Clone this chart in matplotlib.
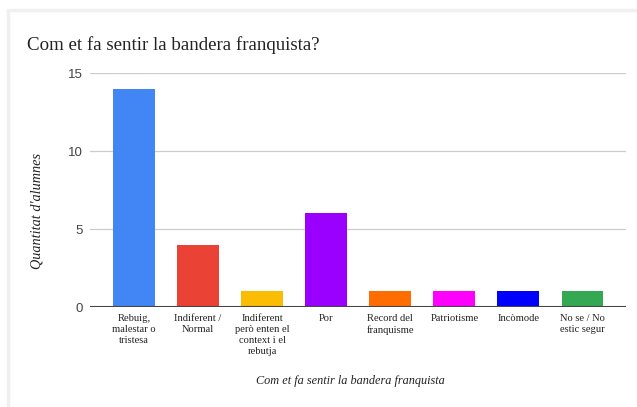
import matplotlib
matplotlib.use("Agg")
import matplotlib.pyplot as plt
from matplotlib.patches import Rectangle

categories = ["Rebuig,\nmalestar o\ntristesa", "Indiferent /\nNormal",
              "Indiferent\nperò enten el\ncontext i el\nrebutja", "Por",
              "Record del\nfranquisme", "Patriotisme", "Incòmode",
              "No se / No\nestic segur"]
values = [14, 4, 1, 6, 1, 1, 1, 1]
colors = ["#4285f4", "#ea4335", "#fbbc04", "#9900ff", "#ff6d01",
          "#ff00ff", "#0000ff", "#34a853"]
yticks = [0, 5, 10, 15]

W, H = 637, 407
fig = plt.figure(figsize=(W / 100, H / 100), dpi=100)
fig.patch.set_facecolor("white")

# card border
fig.patches.append(Rectangle((8 / W, -0.01), 1.0, 1 - 10 / H + 0.01,
                             transform=fig.transFigure, facecolor="none",
                             edgecolor="#eef0f2", linewidth=2.5, zorder=0))

ax = fig.add_axes([90 / W, 1 - 307 / H, (626 - 90) / W, (307 - 73) / H])
ax.set_facecolor("none")
x = list(range(len(categories)))
ax.bar(x, values, width=0.655, color=colors, zorder=3)
ax.set_xlim(-0.687, 7.679)
ax.set_ylim(0, 15)
ax.set_yticks(yticks)
ax.set_yticklabels([str(v) for v in yticks], family="Liberation Sans",
                   fontsize=9.5, color="#444444")
ax.grid(axis="y", color="#cccccc", linewidth=0.9, zorder=0)
ax.axhline(0, color="#444444", linewidth=1.5, zorder=4)
for s in ax.spines.values():
    s.set_visible(False)
ax.tick_params(axis="y", length=0, pad=5)
ax.tick_params(axis="x", length=0, pad=5)
ax.set_xticks(x)
ax.set_xticklabels(categories, family="Liberation Serif", fontsize=7.6,
                   color="#222222", linespacing=1.3, va="top")

fig.text(27 / W, 1 - 45 / H, "Com et fa sentir la bandera franquista?",
         family="Liberation Serif", fontsize=13.6, color="#222222",
         va="center", ha="left")
fig.text(37 / W, 1 - 211 / H, "Quantitat d'alumnes", family="Liberation Serif",
         style="italic", fontsize=10.3, color="#222222", rotation=90,
         va="center", ha="center")
fig.text(350 / W, 1 - 381 / H, "Com et fa sentir la bandera franquista",
         family="Liberation Serif", style="italic", fontsize=8.8,
         color="#222222", va="center", ha="center")

fig.savefig("out.png", dpi=100)
